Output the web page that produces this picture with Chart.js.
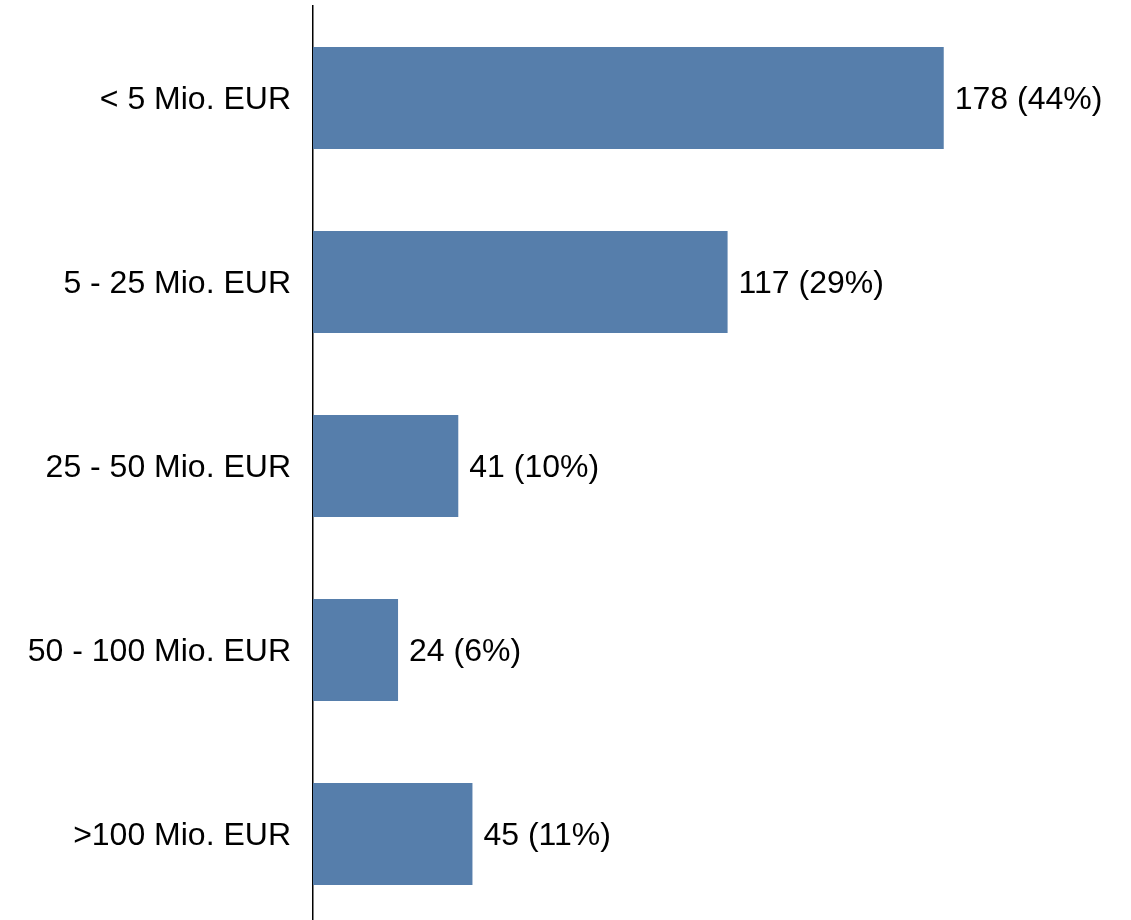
<!DOCTYPE html>
<html>
<head>
<meta charset="utf-8">
<script src="https://cdn.jsdelivr.net/npm/chart.js@4"></script>
<style>
	html, body { margin: 0; padding: 0; background: #fff; }
	#frame { position: relative; width: 1131px; height: 920px; overflow: hidden; }
	#box { width: 1131px; height: 926px; }
</style>
</head>
<body>
<div id="frame"><div id="box"><canvas id="myChart"></canvas></div></div>
<script>
const categories = ['< 5 Mio. EUR', '5 - 25 Mio. EUR', '25 - 50 Mio. EUR', '50 - 100 Mio. EUR', '>100 Mio. EUR'];
const counts = [178, 117, 41, 24, 45];
const shares = [44, 29, 10, 6, 11];

const fontFamily = '"Liberation Sans", Arial, sans-serif';

// value labels to the right of each bar
const valueLabels = {
	id: 'valueLabels',
	afterDatasetsDraw(chart) {
		const ctx = chart.ctx;
		const meta = chart.getDatasetMeta(0);
		ctx.save();
		ctx.font = '32px ' + fontFamily;
		ctx.fillStyle = '#000';
		ctx.textAlign = 'left';
		ctx.textBaseline = 'middle';
		meta.data.forEach((bar, i) => {
			ctx.fillText(counts[i] + ' (' + shares[i] + '%)', bar.x + 11, bar.y + 2);
		});
		ctx.restore();
	}
};

const canvas = document.getElementById('myChart').getContext('2d');
new Chart(canvas, {
	type: 'bar',
	data: {
		labels: categories,
		datasets: [{
			data: counts,
			backgroundColor: '#567EAB',
			borderWidth: 0,
			categoryPercentage: 1,
			barPercentage: 0.555,
		}],
	},
	options: {
		indexAxis: 'y',
		responsive: true,
		maintainAspectRatio: false,
		animation: false,
		layout: { padding: { top: 6, right: 3, bottom: 0, left: 0 } },
		plugins: {
			legend: { display: false },
			tooltip: { enabled: false },
		},
		scales: {
			x: {
				display: false,
				min: 0,
				max: 230,
			},
			y: {
				afterFit: (scale) => {
					scale.width = 313;
					scale.paddingTop = 0;
					scale.paddingBottom = 0;
				},
				grid: { display: false, drawTicks: false },
				border: { display: true, color: '#000', width: 1.5 },
				ticks: {
					color: '#000',
					padding: 22,
					labelOffset: 2,
					font: { family: fontFamily, size: 32 },
				},
			},
		},
	},
	plugins: [valueLabels],
});
</script>
</body>
</html>
